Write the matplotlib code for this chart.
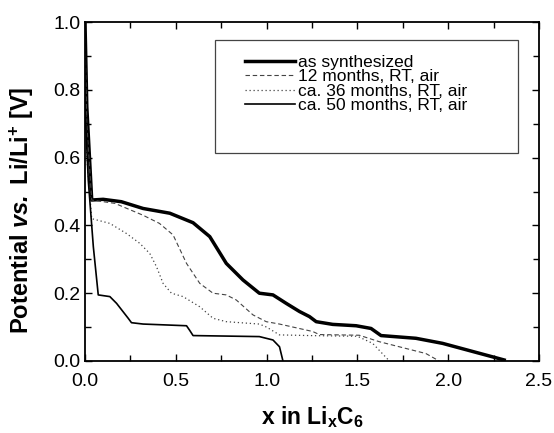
import matplotlib
matplotlib.use("Agg")
import matplotlib.pyplot as plt
from matplotlib.ticker import MultipleLocator
from matplotlib.patches import Rectangle

plt.rcParams['font.family'] = ['Liberation Sans', 'DejaVu Sans']
plt.rcParams['mathtext.fontset'] = 'custom'
plt.rcParams['mathtext.rm'] = 'Liberation Sans'
plt.rcParams['mathtext.it'] = 'Liberation Sans:italic'
plt.rcParams['mathtext.bf'] = 'Liberation Sans:bold'
plt.rcParams['mathtext.bfit'] = 'Liberation Sans:bold:italic'

# as synthesized
x_as = [0.0, 0.01, 0.037, 0.1, 0.2, 0.32, 0.467, 0.595, 0.687, 0.778, 0.87, 0.96, 1.035,
        1.108, 1.181, 1.236, 1.273, 1.364, 1.493, 1.575, 1.63, 1.822, 1.969, 2.308]
y_as = [1.0, 0.75, 0.475, 0.477, 0.47, 0.45, 0.436, 0.408, 0.367, 0.288, 0.239, 0.2, 0.195,
        0.17, 0.146, 0.131, 0.116, 0.108, 0.104, 0.096, 0.075, 0.067, 0.052, 0.003]

# 12 months, RT, air
x_12 = [0.0, 0.01, 0.037, 0.165, 0.32, 0.41, 0.485, 0.559, 0.632, 0.705, 0.778, 0.833,
        0.925, 0.998, 1.071, 1.254, 1.29, 1.51, 1.62, 1.877, 1.95]
y_12 = [0.95, 0.7, 0.475, 0.465, 0.43, 0.406, 0.372, 0.288, 0.229, 0.2, 0.195, 0.18,
        0.136, 0.116, 0.109, 0.087, 0.078, 0.076, 0.057, 0.022, 0.0]

# ca. 36 months, RT, air
x_36 = [0.0, 0.01, 0.037, 0.137, 0.229, 0.302, 0.357, 0.394, 0.43, 0.476, 0.54, 0.632,
        0.705, 0.778, 0.96, 1.0, 1.071, 1.236, 1.5, 1.584, 1.676]
y_36 = [0.9, 0.6, 0.42, 0.406, 0.376, 0.347, 0.317, 0.278, 0.229, 0.2, 0.19, 0.16,
        0.126, 0.116, 0.109, 0.1, 0.077, 0.075, 0.073, 0.052, 0.0]

# ca. 50 months, RT, air
x_50 = [0.0, 0.018, 0.046, 0.073, 0.137, 0.174, 0.238, 0.256, 0.32, 0.559, 0.577, 0.595,
        0.96, 1.035, 1.071, 1.09]
y_50 = [0.75, 0.534, 0.337, 0.195, 0.19, 0.17, 0.126, 0.113, 0.109, 0.104, 0.09, 0.075,
        0.072, 0.062, 0.042, 0.0]

labels = ['as synthesized', '12 months, RT, air', 'ca. 36 months, RT, air', 'ca. 50 months, RT, air']

fig = plt.figure(figsize=(5.54, 4.33), dpi=100)
ax = fig.add_axes([0.1534, 0.1663, 0.8196, 0.7827])

ax.plot(x_as, y_as, color='black', lw=2.5, ls='-', label=labels[0])
ax.plot(x_12, y_12, color='#444444', lw=0.8, ls=(0, (4, 2.5)), label=labels[1])
ax.plot(x_36, y_36, color='#444444', lw=0.9, ls=(0, (1, 2.2)), label=labels[2])
ax.plot(x_50, y_50, color='black', lw=1.2, ls='-', label=labels[3])

ax.set_xlim(0, 2.5)
ax.set_ylim(0, 1.0)
ax.xaxis.set_major_locator(MultipleLocator(0.5))
ax.xaxis.set_minor_locator(MultipleLocator(0.25))
ax.yaxis.set_major_locator(MultipleLocator(0.2))
ax.yaxis.set_minor_locator(MultipleLocator(0.1))
ax.tick_params(which='both', direction='in', top=True, right=True, labelsize=14, width=1.0)
ax.tick_params(which='major', length=5)
ax.tick_params(which='minor', length=4)
ax.tick_params(axis='x', which='major', pad=9)
ax.tick_params(axis='y', which='major', pad=3)
ax.xaxis.set_major_formatter(plt.FuncFormatter(lambda v, p: f'{v:.1f}'))
ax.yaxis.set_major_formatter(plt.FuncFormatter(lambda v, p: f'{v:.1f}'))
for s in ax.spines.values():
    s.set_linewidth(1.3)

ax.set_xlabel(r'x in Li$_{\mathbf{x}}$C$_{\mathbf{6}}$', fontsize=16.5, fontweight='bold')
ax.xaxis.set_label_coords(0.5, -0.128)
ax.set_ylabel(r'Potential $\mathbfit{vs.}$ Li/Li$^{\mathbf{+}}$ [V]', fontsize=17, fontweight='bold')
ax.yaxis.set_label_coords(-0.108, 0.445)

# legend frame
ax.add_patch(Rectangle((0.286, 0.614), 0.668, 0.333, transform=ax.transAxes,
                       fill=False, edgecolor='#444444', lw=0.9, zorder=5))
leg = ax.legend(loc='upper left', bbox_to_anchor=(0.352, 0.903), fontsize=12.5, frameon=False,
                handlelength=2.9, handletextpad=0.15, borderpad=0, labelspacing=-0.05,
                borderaxespad=0)

fig.savefig('out.png', dpi=100)
